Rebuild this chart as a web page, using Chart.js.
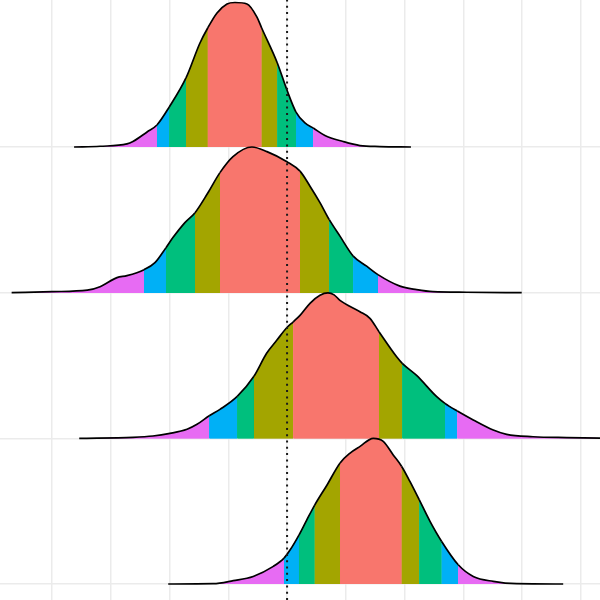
<!DOCTYPE html>
<html>
<head>
<meta charset="utf-8">
<script src="https://cdn.jsdelivr.net/npm/chart.js@4/dist/chart.umd.min.js"></script>
<style>
html,body{margin:0;padding:0;background:#fff;}
#wrap{width:600px;height:600px;}
</style>
</head>
<body>
<div id="wrap"><canvas id="c" width="600" height="600"></canvas></div>
<script>
// Ridge baselines (category index, bottom = 0)
const ridgeBaselines = [3, 2, 1, 0];

// Ridge 1 (top)
const r1X = [-1.812,-1.591,-1.362,-1.311,-1.191,-1.107,-1.002,-0.860,-0.741,-0.675,-0.596,-0.511,-0.443,-0.341,-0.256,-0.216,-0.083,-0.001,0.076,0.152,0.223,0.322,0.476,0.620,0.790,1.054];
const r1D = [0,0.005,0.021,0.038,0.103,0.151,0.275,0.474,0.714,0.817,0.920,0.982,0.992,0.982,0.892,0.817,0.577,0.391,0.240,0.165,0.130,0.079,0.038,0.010,0.003,0];
const r1Cuts = [-1.107,-1.002,-0.860,-0.675,-0.216,-0.083,0.076,0.223];

// Ridge 2
const r2X = [-2.343,-1.997,-1.699,-1.591,-1.447,-1.362,-1.217,-1.124,-1.030,-0.971,-0.869,-0.783,-0.673,-0.571,-0.460,-0.299,-0.171,-0.001,0.110,0.195,0.280,0.359,0.450,0.563,0.677,0.773,0.960,1.102,1.241,1.528,1.996];
const r2D = [0,0.007,0.017,0.041,0.103,0.117,0.158,0.206,0.309,0.378,0.481,0.549,0.686,0.824,0.934,1.000,0.968,0.899,0.834,0.731,0.618,0.501,0.388,0.251,0.182,0.124,0.045,0.021,0.007,0.003,0];
const r2Cuts = [-1.217,-1.030,-0.783,-0.571,0.110,0.359,0.563,0.773];

// Ridge 3
const r3X = [-1.768,-1.311,-1.141,-0.996,-0.851,-0.766,-0.662,-0.571,-0.424,-0.282,-0.174,-0.088,-0.003,0.053,0.110,0.195,0.280,0.348,0.400,0.450,0.620,0.705,0.782,0.932,0.980,1.102,1.273,1.343,1.448,1.584,1.754,1.868,2.092,2.378,2.832];
const r3D = [0,0.007,0.016,0.034,0.062,0.096,0.155,0.199,0.288,0.426,0.584,0.673,0.759,0.800,0.844,0.927,0.982,0.998,0.985,0.947,0.869,0.824,0.732,0.560,0.515,0.432,0.286,0.240,0.187,0.126,0.057,0.027,0.011,0.005,0];
const r3Cuts = [-0.662,-0.424,-0.282,0.053,0.782,0.980,1.343,1.448];

// Ridge 4 (bottom)
const r4X = [-1.011,-0.628,-0.458,-0.288,-0.117,-0.026,0.025,0.101,0.167,0.235,0.340,0.451,0.536,0.621,0.733,0.818,0.903,0.975,1.045,1.125,1.216,1.315,1.456,1.584,1.754,1.953,2.349];
const r4D = [0,0.002,0.023,0.052,0.121,0.178,0.233,0.336,0.439,0.542,0.680,0.831,0.899,0.945,1.000,0.979,0.886,0.807,0.704,0.577,0.430,0.292,0.132,0.052,0.018,0.002,0];
const r4Cuts = [-0.026,0.101,0.235,0.451,0.975,1.125,1.315,1.456];

// Band colours from outer tail to centre and back
const bandColors = ['#E76BF3','#00B0F6','#00BF7D','#A3A500','#F8766D','#A3A500','#00BF7D','#00B0F6','#E76BF3'];

// Reference line position
const refLineX = 0;

const ridges = [
  {xs:r1X, ds:r1D, cuts:r1Cuts, base:ridgeBaselines[0]},
  {xs:r2X, ds:r2D, cuts:r2Cuts, base:ridgeBaselines[1]},
  {xs:r3X, ds:r3D, cuts:r3Cuts, base:ridgeBaselines[2]},
  {xs:r4X, ds:r4D, cuts:r4Cuts, base:ridgeBaselines[3]}
];

const Y_MIN = -0.1098, Y_MAX = 4.0091;
const X_MIN = -2.442, X_MAX = 2.662;

function bandColor(cuts, xm){
  let k = 0;
  for (const c of cuts) if (xm > c) k++;
  return bandColors[k];
}

const datasets = [];
// reference dotted line on top
datasets.push({
  data:[{x:refLineX,y:Y_MIN},{x:refLineX,y:Y_MAX}],
  borderColor:'#1a1a1a', borderWidth:2, borderDash:[2,4.3],
  pointRadius:0, fill:false
});
// bottom ridge first so it's drawn on top
for (let i = ridges.length - 1; i >= 0; i--) {
  const r = ridges[i];
  datasets.push({
    data: r.xs.map((x, j) => ({x, y: r.base + r.ds[j]})),
    borderColor:'#000', borderWidth:1.7,
    backgroundColor: bandColors[4],
    fill:{value:r.base},
    pointRadius:0,
    cubicInterpolationMode:'monotone',
    segment:{
      backgroundColor: ctx => bandColor(r.cuts, (ctx.p0.parsed.x + ctx.p1.parsed.x) / 2)
    }
  });
}

// repeat each band fill so anti-aliased edges of neighbouring bands close up (no white seams)
const solidBands = {
  id:'solidBands',
  beforeDatasetsDraw(chart){
    const ctx = chart.ctx;
    const orig = ctx.fill;
    ctx.__origFill = orig;
    ctx.fill = function(...a){ orig.apply(this, a); orig.apply(this, a); orig.apply(this, a); orig.apply(this, a); };
  },
  afterDatasetsDraw(chart){
    const ctx = chart.ctx;
    if (ctx.__origFill) { ctx.fill = ctx.__origFill; delete ctx.__origFill; }
  }
};

new Chart(document.getElementById('c'), {
  type:'line',
  data:{datasets},
  plugins:[solidBands],
  options:{
    responsive:false, animation:false, devicePixelRatio:1,
    layout:{padding:0},
    plugins:{legend:{display:false}, tooltip:{enabled:false}},
    scales:{
      x:{
        type:'linear', min:X_MIN, max:X_MAX,
        ticks:{display:false, stepSize:0.5, includeBounds:false},
        grid:{color:'#EBEBEB', lineWidth:1.5, drawTicks:false},
        border:{display:false}
      },
      y:{
        type:'linear', min:Y_MIN, max:Y_MAX,
        ticks:{display:false, stepSize:1, includeBounds:false},
        afterBuildTicks: s => { s.ticks = s.ticks.filter(t => t.value >= 0 && t.value <= 3); },
        grid:{color:'#EBEBEB', lineWidth:1.5, drawTicks:false},
        border:{display:false}
      }
    }
  }
});
</script>
</body>
</html>
